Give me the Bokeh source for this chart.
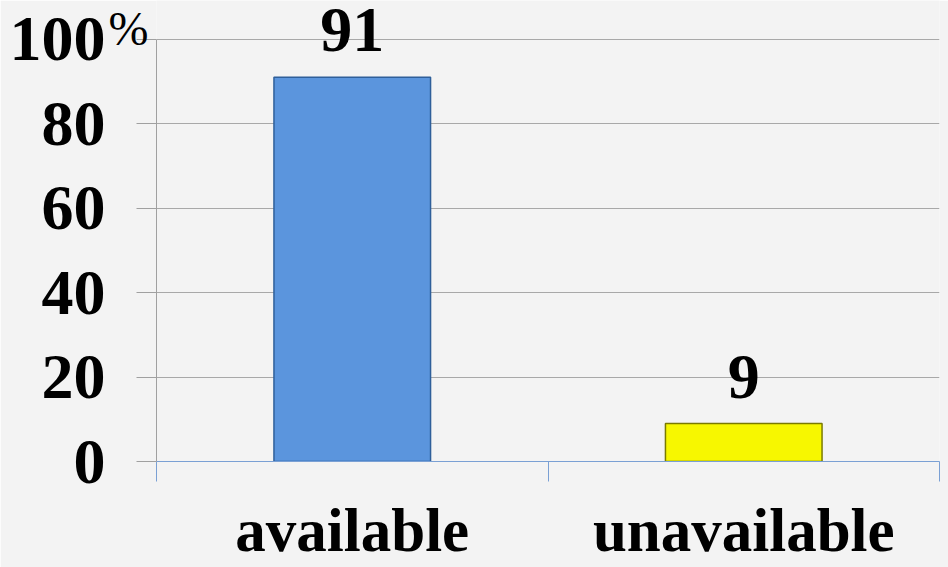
from bokeh.plotting import figure
from bokeh.models import (Range1d, LinearAxis, FixedTicker, Grid,
                          LabelSet, ColumnDataSource)
from bokeh.embed import file_html
from bokeh.resources import INLINE

categories = ["available", "unavailable"]
values = [91, 9]
value_labels = ["91", "9"]
bar_colors = ["#5b95dd", "#f7f700"]
bar_edges = ["#2f5f9a", "#7a7a00"]
y_ticks = [0, 20, 40, 60, 80, 100]
y_tick_labels = ["0", "20", "40", "60", "80", "100"]
unit_label = "%"
unit_tick = 103.3      # "%" sits raised beside the 100 label
y_max = 109.2          # headroom above 100 for the value labels

FONT = "Liberation Serif"
BG = "#f3f3f3"

n = len(categories)
centers = [i + 0.5 for i in range(n)]

p = figure(x_range=Range1d(0, n), y_range=Range1d(0, y_max),
           width=948, height=567, output_backend="svg", toolbar_location=None,
           x_axis_location=None, y_axis_location=None,
           min_border_top=0, min_border_left=156,
           min_border_right=9, min_border_bottom=106)
p.background_fill_color = BG
p.border_fill_color = BG
p.outline_line_color = None
for g in p.grid:
    g.visible = False

grid = Grid(dimension=1, ticker=FixedTicker(ticks=y_ticks),
            grid_line_color="#a8a8a8")
p.add_layout(grid, "center")

# --- left side: tick stubs, "%" unit, numbers ---
blank = {t: "" for t in y_ticks}
y_stub_axis = LinearAxis(ticker=FixedTicker(ticks=y_ticks), bounds=(0, 100),
                         axis_line_color="#a0a0a0", major_tick_line_color="#a0a0a0",
                         major_tick_out=20, major_tick_in=0,
                         minor_tick_line_color=None,
                         major_label_overrides=blank,
                         major_label_text_font_size="1px",
                         major_label_standoff=0)
p.add_layout(y_stub_axis, "left")

y_unit_axis = LinearAxis(ticker=FixedTicker(ticks=[unit_tick]),
                         major_label_overrides={unit_tick: unit_label},
                         axis_line_color=None, major_tick_line_color=None,
                         minor_tick_line_color=None,
                         major_tick_out=0, major_tick_in=0,
                         major_label_standoff=-12,
                         major_label_text_font=FONT,
                         major_label_text_font_size="48px",
                         major_label_text_color="black")
p.add_layout(y_unit_axis, "left")

y_num_axis = LinearAxis(ticker=FixedTicker(ticks=y_ticks),
                        major_label_overrides=dict(zip(y_ticks, y_tick_labels)),
                        axis_line_color=None, major_tick_line_color=None,
                        minor_tick_line_color=None,
                        major_tick_out=0, major_tick_in=0,
                        major_label_standoff=0,
                        major_label_text_font=FONT,
                        major_label_text_font_style="bold",
                        major_label_text_font_size="64px",
                        major_label_text_color="black")
p.add_layout(y_num_axis, "left")

# --- bottom: boundary ticks, then category names ---
x_blank = {t: "" for t in range(n + 1)}
tick_axis = LinearAxis(ticker=FixedTicker(ticks=list(range(n + 1))),
                       axis_line_color="#7aa0d4", major_tick_line_color="#7aa0d4",
                       major_tick_out=20, major_tick_in=0,
                       minor_tick_line_color=None,
                       major_label_overrides=x_blank,
                       major_label_text_font_size="1px", major_label_standoff=0)
p.add_layout(tick_axis, "below")

cat_axis = LinearAxis(ticker=FixedTicker(ticks=centers),
                      major_label_overrides={c: name for c, name in zip(centers, categories)},
                      axis_line_color=None, major_tick_line_color=None,
                      minor_tick_line_color=None,
                      major_tick_out=0, major_tick_in=0,
                      major_label_standoff=15,
                      major_label_text_font=FONT,
                      major_label_text_font_style="bold",
                      major_label_text_font_size="61px",
                      major_label_text_color="black")
p.add_layout(cat_axis, "below")

src = ColumnDataSource(dict(x=centers, val=values, lab=value_labels,
                            color=bar_colors, edge=bar_edges))
p.vbar(x="x", top="val", width=0.4, fill_color="color", line_color="edge",
       line_width=1.5, source=src)

labels = LabelSet(x="x", y="val", text="lab", source=src, y_offset=26,
                  text_align="center", text_baseline="alphabetic",
                  text_font=FONT, text_font_style="bold",
                  text_font_size="64px", text_color="black")
p.add_layout(labels)

open("out.html", "w").write(file_html(p, INLINE))
